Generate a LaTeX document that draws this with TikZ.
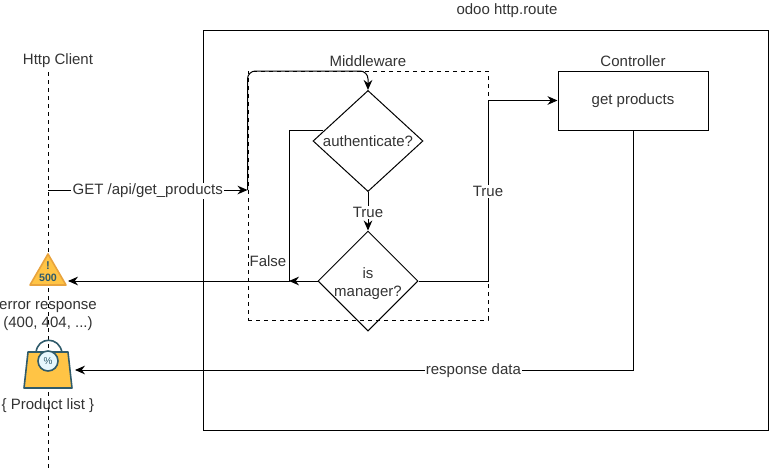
\documentclass[tikz,border=0pt]{standalone}
\usepackage{fontspec}
\setmainfont{Liberation Sans}
\usetikzlibrary{arrows.meta,shapes.geometric}
\definecolor{txtgray}{HTML}{333333}
\definecolor{iconyel}{HTML}{FFC445}
\definecolor{iconorg}{HTML}{E8A33D}
\definecolor{icondark}{HTML}{2F5B6B}
\tikzset{
  arr/.style={-{Stealth[length=7.5pt,width=6.5pt]}},
  lbl/.style={inner sep=1pt,text=txtgray,yshift=-0.75pt},
  lblw/.style={lbl,fill=white},
  dec/.style={shape=diamond,draw,inner sep=0pt,minimum width=#1,minimum height=100*0.75pt,align=center,text=txtgray},
  box/.style={draw,inner sep=0pt,text=txtgray}
}
\begin{document}
\begin{tikzpicture}[x=0.75pt,y=-0.75pt,line width=0.75pt,every node/.style={font=\fontsize{11.25pt}{13.5pt}\selectfont}]
            \useasboundingbox (0,0) rectangle (769,472);
            \node[box,minimum width=565*0.75pt,minimum height=400*0.75pt] (route) at (485.5,230) {};
            \node[lbl] (routelbl) at (507,10) {odoo http.route};
            \node[lbl] (client) at (58,60) {Http Client};
            \coordinate (lifetop) at (48,72); \coordinate (lifebot) at (48,470);
            \draw[dashed] (lifetop) -- (lifebot);
            \node[draw,dashed,inner sep=0pt,minimum width=240*0.75pt,minimum height=249*0.75pt] (mw) at (368,195.5) {};
            \node[lbl] (mwlbl) at (368,60) {Middleware};
            \node[lbl] (ctllbl) at (633,60) {Controller};
            \node[box,minimum width=150*0.75pt,minimum height=59*0.75pt] (ctl) at (633,100.5) {};
            \node[lbl] (ctltxt) at (633,100) {get products};
            \node[dec=110*0.75pt] (auth) at (368,141) {authenticate?};
            \node[dec=100*0.75pt,label={[lbl,align=center,yshift=-1.5pt]center:is\\manager?}] (mgr) at (368,281) {};
            % warning icon
            \node[inner sep=0pt,minimum width=40*0.75pt,minimum height=35*0.75pt] (warn) at (48,269) {};
            \draw[iconorg,fill=iconyel,line width=1.2pt,line join=round] (48,254) -- (66,285) -- (30,285) -- cycle;
            \node[inner sep=0pt,font=\bfseries\fontsize{8.5pt}{8pt}\selectfont,text=icondark] at (48,266) {!};
            \node[inner sep=0pt,font=\bfseries\fontsize{8pt}{8pt}\selectfont,text=icondark] at (48,278) {500};
            \node[lbl,align=center] (errlbl) at (48,315) {error response\\(400, 404, ...)};
            % bag icon
            \node[inner sep=0pt,minimum width=48*0.75pt,minimum height=50*0.75pt] (bag) at (48,365) {};
            \draw[icondark,line width=1.2pt] (36,353) .. controls (37,336) and (60,336) .. (62,353);
            \draw[icondark,fill=iconyel,line width=1.2pt,line join=round] (28,352) -- (68,352) -- (72,388) -- (24,388) -- cycle;
            \draw[icondark,fill=white!90!cyan,line width=1.2pt] (48,361) circle (10);
            \node[inner sep=0pt,font=\fontsize{7.5pt}{8pt}\selectfont,text=icondark] at (48,361) {\%};
            \node[lbl] (baglbl) at (48,405) {\{ Product list \}};
            % connectors
            \coordinate (get) at (247.5,190); \coordinate (lifeget) at (48,190);
            \draw[arr] (lifeget) -- node[lblw] (getlbl) {GET /api/get\_products} (get);
            \draw[arr,rounded corners=6pt] (get) -- (247.5,71) -- (368,71) -- (auth.north);
            \draw[arr] (auth) -- node[lblw] (truea) {True} (mgr);
            \coordinate (falsetop) at (289,130); \coordinate (falsebot) at (289,281);
            \coordinate (warnend) at (68,281);
            \draw[arr] (auth.west |- falsetop) ++(10,0) -- (falsetop) -- (falsebot) -- (warnend);
            \draw[arr] (mgr.west) -- (falsebot);
            \node[lbl] (falselbl) at (268,260) {False};
            \coordinate (truebot) at (488,281);
            \draw[arr] (mgr.east) -- (truebot) -- node[lblw,pos=0.5] (trueb) {True} (truebot |- ctl.west) -- (ctl.west);
            \coordinate (ctlcorner) at (633,370); \coordinate (bagend) at (75,370);
            \draw[arr] (ctl.south -| ctlcorner) -- (ctlcorner) -- node[lblw,pos=0.286] (resplbl) {response data} (bagend);
        \end{tikzpicture}
\end{document}
